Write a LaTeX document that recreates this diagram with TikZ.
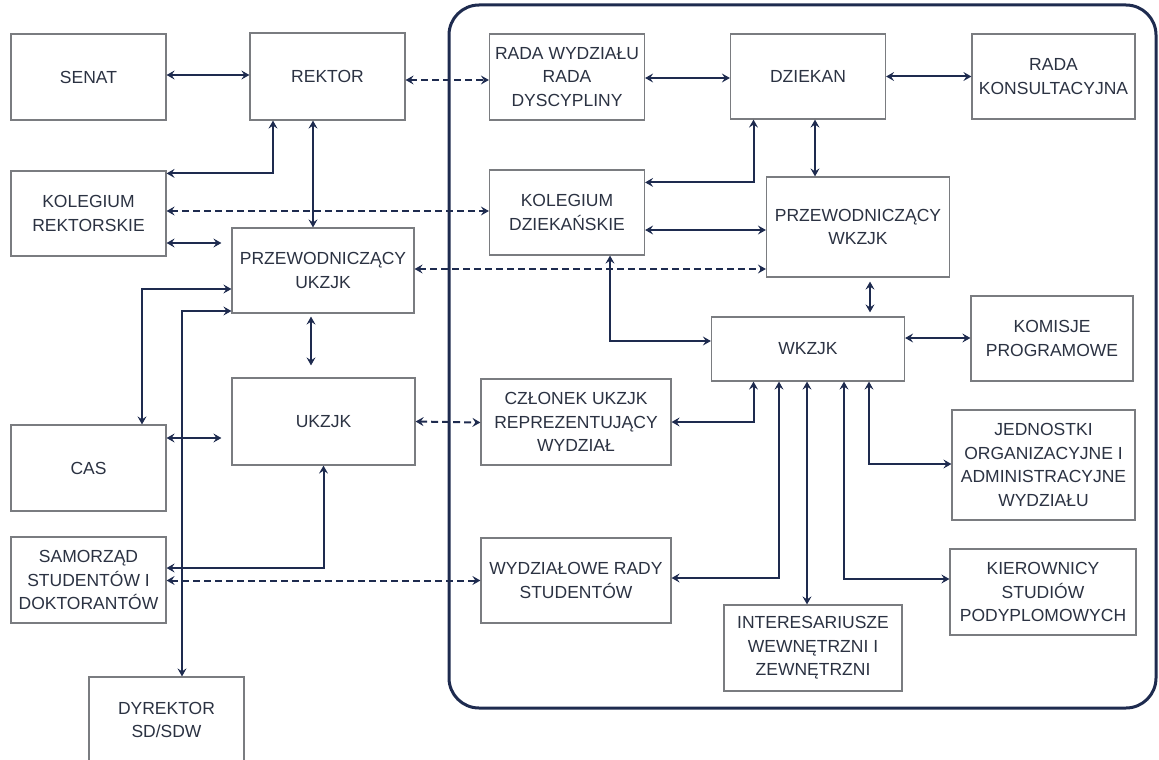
\documentclass[tikz,border=0pt]{standalone}
\usepackage{fontspec}
\setmainfont{Liberation Sans}
\usetikzlibrary{arrows.meta}
\definecolor{navy}{HTML}{1E2B4F}
\definecolor{boxgray}{HTML}{7A7C80}
\definecolor{txt}{HTML}{2B3242}
\tikzset{>={Stealth[length=8pt,width=9pt,inset=3pt]}}
\tikzset{
  box/.style={draw=boxgray, line width=1.2pt, fill=white, align=center, text=txt,
    inner sep=0pt, font=\fontsize{17.5}{23.5}\selectfont},
  link/.style={<->, draw=navy, line width=2pt},
  dlink/.style={<->, draw=navy, line width=2pt, dash pattern=on 7pt off 4pt}
}

\begin{document}
\begin{tikzpicture}[x=1pt, y=-1pt]
    \useasboundingbox (0,0) rectangle (1159,760);
    \draw [navy, line width=3pt, rounded corners=30pt] (449,5) rectangle (1156,708);

    \node [box, minimum width=155, minimum height=86] (senat) at (88.5,77) {SENAT};
    \node [box, minimum width=155, minimum height=87] (rektor) at (327.5,76.5) {REKTOR};
    \node [box, minimum width=155, minimum height=85] (kolrek) at (88.5,213.5) {KOLEGIUM\\REKTORSKIE};
    \node [box, minimum width=182, minimum height=85] (przukzjk) at (323,270.5) {PRZEWODNICZĄCY\\UKZJK};
    \node [box, minimum width=183, minimum height=87] (ukzjk) at (323.5,421.5) {UKZJK};
    \node [box, minimum width=155, minimum height=86] (cas) at (88.5,468) {CAS};
    \node [box, minimum width=155, minimum height=86] (samorzad) at (88.5,580) {SAMORZĄD\\STUDENTÓW I\\DOKTORANTÓW};
    \node [box, minimum width=155, minimum height=86] (dyrektor) at (166.5,720) {DYREKTOR\\SD/SDW};

    \node [box, minimum width=155, minimum height=86] (radawyd) at (567,77) {RADA WYDZIAŁU\\RADA\\DYSCYPLINY};
    \node [box, minimum width=155, minimum height=85] (dziekan) at (808,76.5) {DZIEKAN};
    \node [box, minimum width=163, minimum height=85] (radakons) at (1053.5,76.5) {RADA\\KONSULTACYJNA};
    \node [box, minimum width=155, minimum height=85] (koldz) at (567,212.5) {KOLEGIUM\\DZIEKAŃSKIE};
    \node [box, minimum width=183, minimum height=100] (przwkzjk) at (858,227) {PRZEWODNICZĄCY\\WKZJK};
    \node [box, minimum width=193, minimum height=64] (wkzjk) at (808,349) {WKZJK};
    \node [box, minimum width=162, minimum height=85] (komisje) at (1052,338.5) {KOMISJE\\PROGRAMOWE};
    \node [box, minimum width=190, minimum height=86] (czlonek) at (576,422) {CZŁONEK UKZJK\\REPREZENTUJĄCY\\WYDZIAŁ};
    \node [box, minimum width=183, minimum height=110] (jednostki) at (1043.5,465) {JEDNOSTKI\\ORGANIZACYJNE I\\ADMINISTRACYJNE\\WYDZIAŁU};
    \node [box, minimum width=190, minimum height=85] (wydzrady) at (576,580.5) {WYDZIAŁOWE RADY\\STUDENTÓW};
    \node [box, minimum width=178, minimum height=86] (interes) at (813,648) {INTERESARIUSZE\\WEWNĘTRZNI I\\ZEWNĘTRZNI};
    \node [box, minimum width=186, minimum height=86] (kierown) at (1043,592) {KIEROWNICY\\STUDIÓW\\PODYPLOMOWYCH};

    \draw [link] ([yshift=2pt]senat.east) -- ([yshift=1.5pt]rektor.west);
    \draw [link] ([xshift=-54.5pt]rektor.south) |- ([yshift=-3pt]kolrek.north east);
    \draw [link] ([xshift=-14.5pt]rektor.south) -- ([xshift=-10pt]przukzjk.north);
    \draw [dlink] ([yshift=-3.5pt]rektor.east) -- ([yshift=-3pt]radawyd.west);
    \draw [dlink] ([yshift=2.5pt]kolrek.east) -- ([yshift=1.5pt]koldz.west);
    \draw [link] ([yshift=-29.5pt]kolrek.east) -- ([xshift=-10pt,yshift=27.5pt]przukzjk.west);
    \draw [dlink] ([yshift=1.5pt]przukzjk.east) -- ([yshift=-42pt]przwkzjk.west);
    \draw [link] ([yshift=-18.5pt]przukzjk.west) -| ([xshift=53.5pt]cas.north);
    \draw [link] ([yshift=-40.5pt]przukzjk.west) -| ([xshift=15.5pt]dyrektor.north);
    \draw [link] ([xshift=-12pt,yshift=-3pt]przukzjk.south) -- ([xshift=-12.5pt,yshift=12pt]ukzjk.north);
    \draw [link] ([yshift=30pt]cas.east) -- ([xshift=-10pt,yshift=-16.5pt]ukzjk.west);
    \draw [link] (ukzjk.south) |- ([yshift=12pt]samorzad.east);
    \draw [dlink] ([yshift=-0.5pt]samorzad.east) -- (wydzrady.west);
    \draw [dlink] (ukzjk.east) -- ([yshift=-0.5pt]czlonek.west);

    \draw [link] ([yshift=-1pt]radawyd.east) -- ([yshift=-1.5pt]dziekan.west);
    \draw [link] (dziekan.east) -- (radakons.west);
    \draw [link] ([xshift=-54.5pt]dziekan.south) |- ([yshift=-13pt]koldz.north east);
    \draw [link] ([xshift=7pt]dziekan.south) -- ([xshift=-43pt]przwkzjk.north);
    \draw [link] ([yshift=-17.5pt]koldz.east) -- ([yshift=-3pt]przwkzjk.west);
    \draw [link] ([xshift=43pt]koldz.south) |- ([yshift=8pt]wkzjk.west);
    \draw [link] ([xshift=12pt,yshift=-4pt]przwkzjk.south) -- ([xshift=62pt,yshift=4pt]wkzjk.north);
    \draw [link] ([yshift=11pt]wkzjk.east) -- ([yshift=0.5pt]komisje.west);
    \draw [link] ([xshift=-54.5pt]wkzjk.south) |- (czlonek.east);
    \draw [link] ([xshift=-29pt]wkzjk.south) |- ([yshift=2.5pt]wydzrady.east);
    \draw [link] ([xshift=-1pt]wkzjk.south) -- ([xshift=-6pt]interes.north);
    \draw [link] ([xshift=36pt]wkzjk.south) |- ([yshift=13pt]kierown.west);
    \draw [link] ([xshift=61pt]wkzjk.south) |- ([yshift=1pt]jednostki.west);
\end{tikzpicture}
\end{document}
